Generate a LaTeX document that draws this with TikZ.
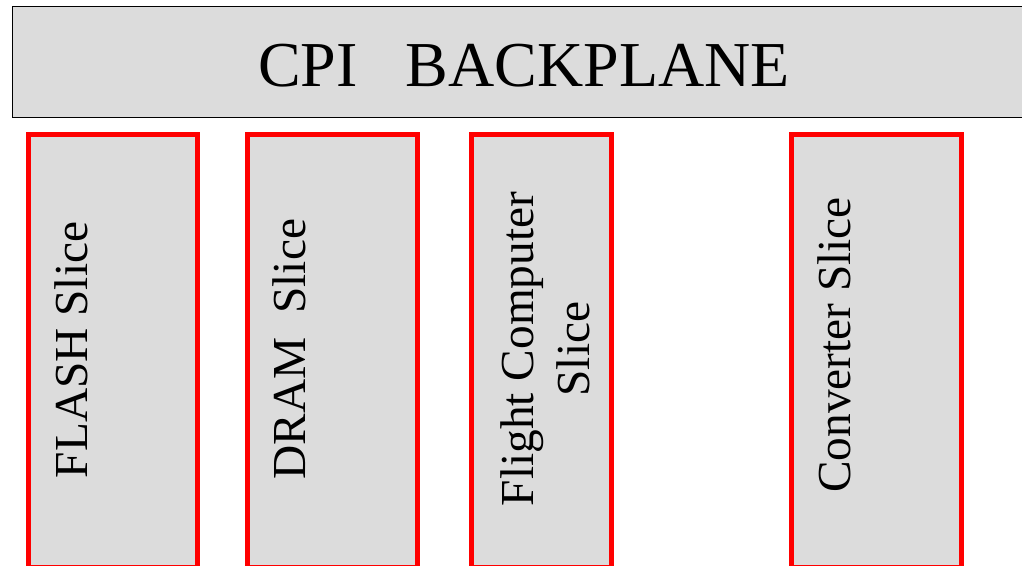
\documentclass[tikz,border=0pt]{standalone}
\usepackage{fontspec}
\setmainfont{Liberation Serif}
\definecolor{panelgray}{HTML}{DCDCDC}
\tikzset{
  slicebox/.style={fill=panelgray, draw=red, line width=3.75pt},
  slicelabel/.style={rotate=90, anchor=base, font=\fontsize{35.5}{42}\selectfont, align=center}
}

\begin{document}
\begin{tikzpicture}[x=0.75pt,y=-0.75pt]
\useasboundingbox (0,0) rectangle (1022,565);
\clip (0,0) rectangle (1022,565);
\filldraw[fill=panelgray, draw=black, line width=1.4pt] (12.5,6.5) rectangle (1030,117.5);
\node[anchor=base, font=\fontsize{48}{56}\selectfont] (backplane) at (524,86.5) {CPI\ \ \ BACKPLANE};
\filldraw[slicebox] (28.5,134.5) rectangle (197.5,567);
\filldraw[slicebox] (247.5,134.5) rectangle (417.5,567);
\filldraw[slicebox] (471.5,134.5) rectangle (611.5,567);
\filldraw[slicebox] (791.5,134.5) rectangle (961.5,567);
\node[slicelabel] (flash) at (87,350) {FLASH Slice};
\node[slicelabel] (dram) at (305,349) {DRAM\ \ Slice};
\node[slicelabel, anchor=center] (flight) at (545,349) {Flight Computer\\Slice};
\node[slicelabel] (conv) at (850,345) {Converter Slice};
\end{tikzpicture}
\end{document}
